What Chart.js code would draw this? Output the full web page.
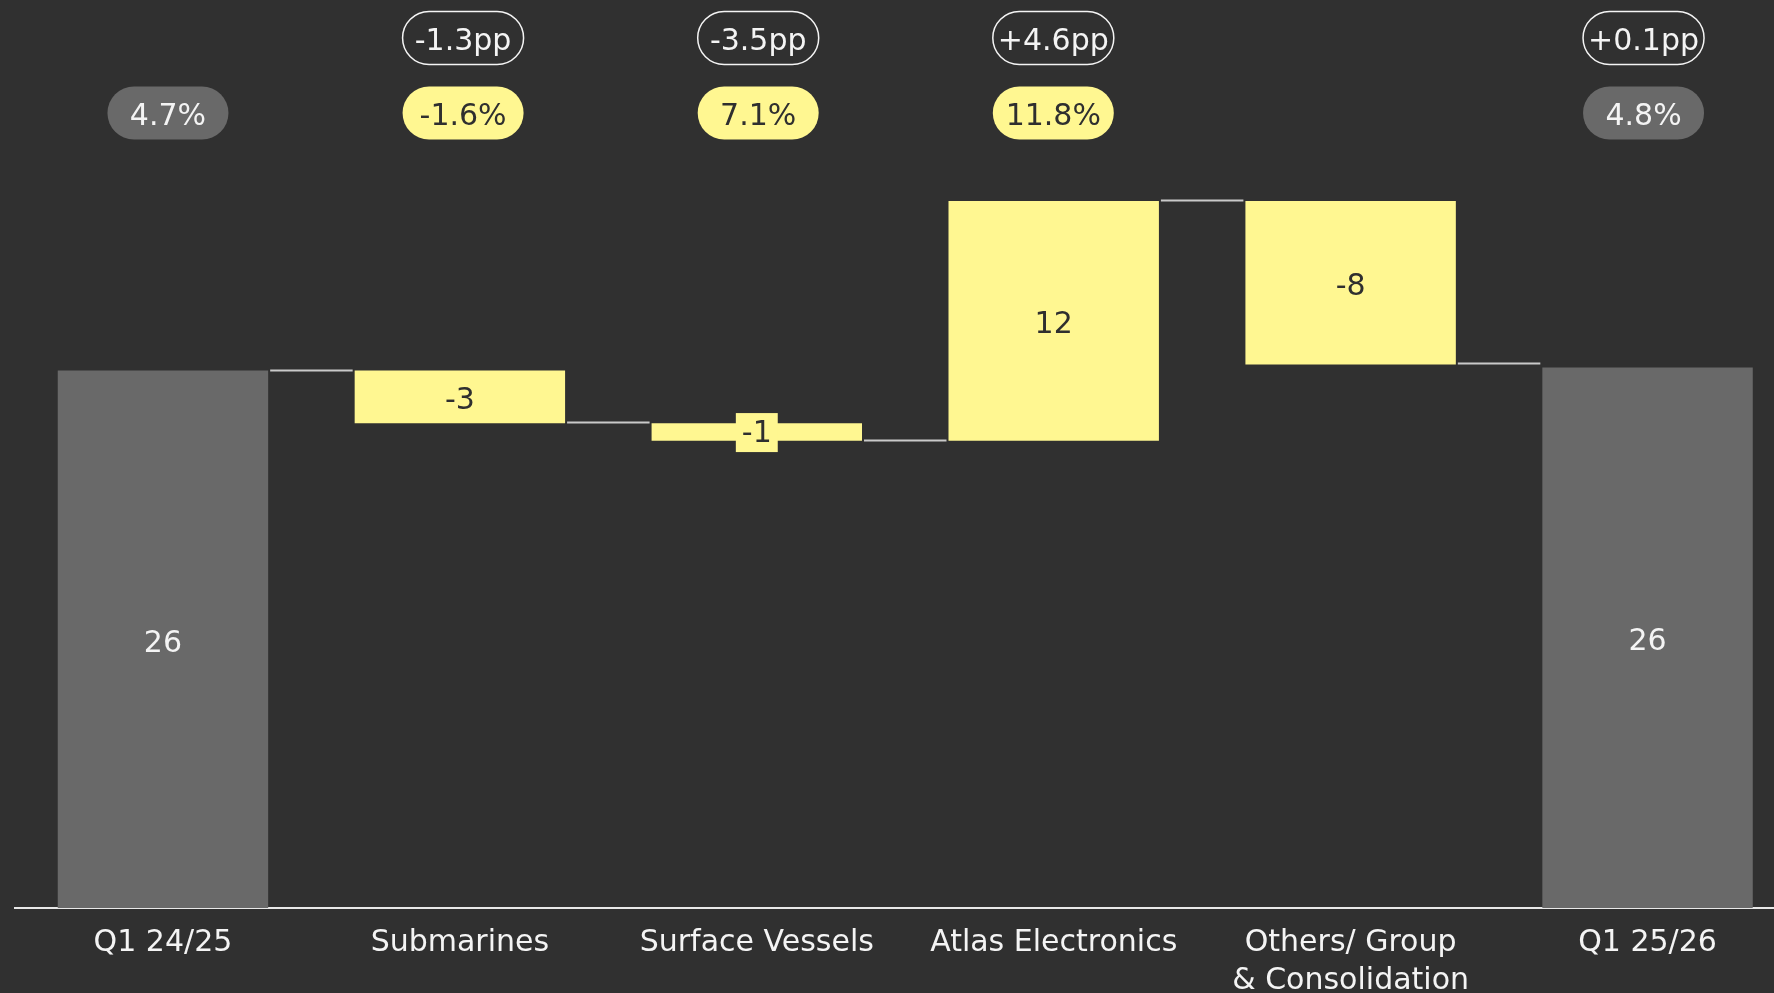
<!DOCTYPE html>
<html>
<head>
<meta charset="utf-8">
<script src="https://cdn.jsdelivr.net/npm/chart.js@4.4.1/dist/chart.umd.min.js"></script>
<style>
  html, body { margin: 0; padding: 0; background: #303030; overflow: hidden; width: 1774px; height: 993px; }
  canvas { display: block; }
</style>
</head>
<body>
<canvas id="c" width="1796" height="993"></canvas>
<script>
// ---- data ----
const categories = ['Q1 24/25', 'Submarines', 'Surface Vessels', 'Atlas Electronics', ['Others/ Group', '& Consolidation'], 'Q1 25/26'];
const startTotal = 26.0;            // Q1 24/25
const deltas = [-2.55, -0.85, 11.6, -7.9]; // segment contributions
const endTotal = 26.15;             // Q1 25/26
const margins = [4.7, -1.6, 7.1, 11.8, null, 4.8];      // margin pills (%)
const marginChanges = [null, -1.3, -3.5, 4.6, null, 0.1]; // change pills (pp)

// ---- colours ----
const BG = '#303030', GREY = '#696969', YELLOW = '#fff791', DARK = '#2f2f2f', WHITE = '#f4f4f4', LINE = '#c9c9c9';
const FONT = '"DejaVu Sans", sans-serif';

// build floating bar ranges
const ranges = [];
const kinds = [];
ranges.push([0, startTotal]); kinds.push('total');
let level = startTotal;
deltas.forEach(d => {
  const next = level + d;
  ranges.push([Math.min(level, next), Math.max(level, next)]);
  kinds.push('delta');
  level = next;
});
ranges.push([0, endTotal]); kinds.push('total');
const barLabels = [startTotal, ...deltas, endTotal].map(v => String(Math.round(v)));
// level at end of each bar (for connectors)
const endLevels = [startTotal];
{ let l = startTotal; deltas.forEach(d => { l += d; endLevels.push(l); }); }

function pill(ctx, cx, cy, w, h, fill, stroke, text, textColor) {
  const r = h / 2;
  ctx.beginPath();
  ctx.moveTo(cx - w / 2 + r, cy - h / 2);
  ctx.lineTo(cx + w / 2 - r, cy - h / 2);
  ctx.arc(cx + w / 2 - r, cy, r, -Math.PI / 2, Math.PI / 2);
  ctx.lineTo(cx - w / 2 + r, cy + h / 2);
  ctx.arc(cx - w / 2 + r, cy, r, Math.PI / 2, Math.PI * 1.5);
  ctx.closePath();
  if (fill) { ctx.fillStyle = fill; ctx.fill(); }
  if (stroke) { ctx.strokeStyle = stroke; ctx.lineWidth = 1.5; ctx.stroke(); }
  ctx.fillStyle = textColor;
  ctx.font = '30px ' + FONT;
  ctx.textAlign = 'center';
  ctx.textBaseline = 'middle';
  ctx.fillText(text, cx, cy + 4.5);
}

const overlay = {
  id: 'overlay',
  afterDatasetsDraw(chart) {
    const ctx = chart.ctx;
    const y = chart.scales.y;
    const meta = chart.getDatasetMeta(0);
    ctx.save();
    // connectors
    ctx.strokeStyle = LINE; ctx.lineWidth = 2;
    for (let i = 0; i < meta.data.length - 1; i++) {
      const a = meta.data[i], b = meta.data[i + 1];
      const yy = Math.round(y.getPixelForValue(endLevels[i])) - 0.5;
      ctx.beginPath();
      ctx.moveTo(a.x + a.width / 2 + 2, yy);
      ctx.lineTo(b.x - b.width / 2 - 2, yy);
      ctx.stroke();
    }
    // bar labels
    ctx.font = '30px ' + FONT;
    ctx.textAlign = 'center';
    ctx.textBaseline = 'middle';
    meta.data.forEach((bar, i) => {
      const cy = (bar.y + bar.base) / 2;
      const txt = barLabels[i];
      const h = Math.abs(bar.base - bar.y);
      if (kinds[i] === 'delta' && h < 34) {
        const tw = ctx.measureText(txt).width;
        ctx.fillStyle = YELLOW;
        ctx.fillRect(bar.x - tw / 2 - 6, cy - 19, tw + 12, 39);
      }
      ctx.fillStyle = kinds[i] === 'total' ? WHITE : DARK;
      ctx.fillText(txt, bar.x, cy + (h < 34 ? 2 : 4.5));
    });
    // pills
    meta.data.forEach((bar, i) => {
      const cx = bar.x + 5 - i * 1.8;
      if (marginChanges[i] !== null) {
        const v = marginChanges[i];
        const t = (v >= 0 ? '+' : '-') + Math.abs(v).toFixed(1) + 'pp';
        pill(ctx, cx, 38, 121, 53, null, WHITE, t, WHITE);
      }
      if (margins[i] !== null) {
        const t = margins[i].toFixed(1) + '%';
        const isTotal = kinds[i] === 'total';
        pill(ctx, cx, 113, 121, 53, isTotal ? GREY : YELLOW, null, t, isTotal ? WHITE : DARK);
      }
    });
    ctx.restore();
  }
};

new Chart(document.getElementById('c'), {
  type: 'bar',
  data: {
    labels: categories,
    datasets: [{
      data: ranges,
      backgroundColor: kinds.map(k => k === 'total' ? GREY : YELLOW),
      borderWidth: 0,
      categoryPercentage: 1,
      barPercentage: 0.7087
    }]
  },
  options: {
    responsive: false,
    devicePixelRatio: 1,
    animation: false,
    layout: { padding: { top: 81.2, left: 14.5, right: 0, bottom: 0 } },
    plugins: { legend: { display: false }, tooltip: { enabled: false } },
    scales: {
      x: {
        grid: { display: false, drawTicks: false },
        border: { display: true, color: '#e8e8e8', width: 2 },
        ticks: { color: WHITE, font: { family: FONT, size: 30, lineHeight: 1.27 }, padding: 16, maxRotation: 0, autoSkip: false },
        afterFit(scale) { scale.height = 85; }
      },
      y: {
        display: false,
        min: 0,
        max: 40
      }
    }
  },
  plugins: [overlay]
});
</script>
</body>
</html>
